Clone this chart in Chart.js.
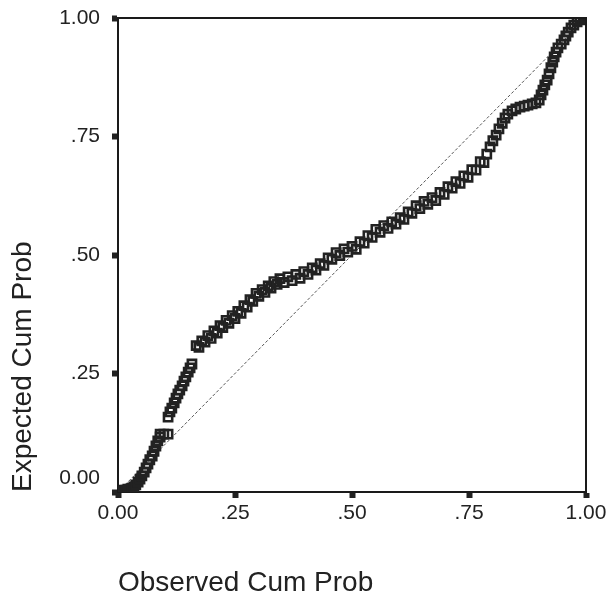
<!DOCTYPE html>
<html>
<head>
<meta charset="utf-8">
<script src="https://cdn.jsdelivr.net/npm/chart.js@4.4.1/dist/chart.umd.min.js"></script>
<style>
  html, body { margin: 0; padding: 0; background: #fff; }
  canvas { display: block; }
</style>
</head>
<body>
<canvas id="ppChart" width="606" height="600"></canvas>
<script>
// P-P plot: observed vs expected cumulative probability
var observed = [
  0.000, 0.004, 0.009, 0.013, 0.017, 0.021, 0.026, 0.030, 0.034, 0.038,
  0.043, 0.047, 0.051, 0.056, 0.060, 0.064, 0.068, 0.073, 0.077, 0.081,
  0.085, 0.090, 0.090, 0.098, 0.107,
  0.107, 0.111, 0.115, 0.120, 0.124, 0.128, 0.132, 0.137, 0.141, 0.145,
  0.150, 0.154, 0.158,
  0.167, 0.173, 0.179, 0.186, 0.192, 0.199, 0.205, 0.212, 0.218, 0.224,
  0.231, 0.237, 0.244, 0.250, 0.256, 0.263, 0.269, 0.276, 0.282, 0.288,
  0.295, 0.301, 0.308, 0.314, 0.321, 0.327, 0.333, 0.340, 0.346, 0.355,
  0.363, 0.372, 0.380, 0.389, 0.397, 0.406, 0.415, 0.423, 0.432, 0.440,
  0.449, 0.457, 0.466, 0.474, 0.483, 0.491, 0.500, 0.509, 0.517, 0.526,
  0.534, 0.543, 0.551, 0.560, 0.568, 0.577, 0.585, 0.594, 0.603, 0.611,
  0.620, 0.628, 0.637, 0.645, 0.654, 0.662, 0.671, 0.679, 0.688, 0.697,
  0.705, 0.714, 0.722, 0.731, 0.739, 0.748, 0.756, 0.765, 0.774, 0.782,
  0.788, 0.795, 0.801, 0.808, 0.814, 0.821, 0.827, 0.833, 0.842, 0.850,
  0.859, 0.868, 0.876, 0.885, 0.893, 0.900, 0.904, 0.908, 0.912, 0.917,
  0.921, 0.925, 0.929, 0.932, 0.936, 0.940, 0.947, 0.953, 0.957, 0.962,
  0.968, 0.974, 0.981, 0.987, 0.994, 0.998, 1.000
];
var expected = [
  0.000, 0.002, 0.002, 0.004, 0.004, 0.006, 0.006, 0.008, 0.011, 0.015,
  0.021, 0.027, 0.034, 0.042, 0.051, 0.059, 0.068, 0.076, 0.086, 0.097,
  0.108, 0.116, 0.122, 0.122, 0.122,
  0.158, 0.169, 0.177, 0.188, 0.198, 0.207, 0.215, 0.224, 0.234, 0.243,
  0.253, 0.262, 0.270,
  0.309, 0.305, 0.319, 0.316, 0.330, 0.324, 0.340, 0.335, 0.351, 0.347,
  0.362, 0.356, 0.372, 0.366, 0.381, 0.377, 0.393, 0.390, 0.406, 0.402,
  0.419, 0.413, 0.427, 0.421, 0.435, 0.430, 0.444, 0.438, 0.450, 0.442,
  0.454, 0.446, 0.459, 0.451, 0.465, 0.459, 0.473, 0.468, 0.482, 0.478,
  0.494, 0.491, 0.505, 0.499, 0.513, 0.506, 0.518, 0.512, 0.528, 0.525,
  0.541, 0.537, 0.554, 0.548, 0.562, 0.556, 0.570, 0.565, 0.579, 0.575,
  0.591, 0.588, 0.604, 0.598, 0.613, 0.607, 0.621, 0.615, 0.632, 0.628,
  0.644, 0.641, 0.655, 0.651, 0.667, 0.664, 0.680, 0.679, 0.697, 0.695,
  0.713, 0.728, 0.741, 0.753, 0.766, 0.778, 0.789, 0.797, 0.804, 0.808,
  0.812, 0.814, 0.816, 0.819, 0.821, 0.827, 0.838, 0.848, 0.859, 0.869,
  0.882, 0.895, 0.907, 0.918, 0.928, 0.937, 0.945, 0.954, 0.962, 0.970,
  0.979, 0.985, 0.992, 0.996, 1.000, 1.000, 1.000
];
var xTickLabels = ["0.00", ".25", ".50", ".75", "1.00"];
var yTickLabels = ["0.00", ".25", ".50", ".75", "1.00"];
var refLine = [0, 1];

var points = observed.map(function (v, i) { return { x: v, y: expected[i] }; });
var diag = refLine.map(function (v) { return { x: v, y: v }; });

var fontFam = '"Liberation Sans", Arial, sans-serif';

// top/right sides of the frame, plus the raised "0.00" label on the y axis
var frame = {
  id: 'frame',
  afterDraw: function (chart) {
    var a = chart.chartArea, c = chart.ctx;
    c.save();
    c.strokeStyle = '#1a1a1a';
    c.lineWidth = 2;
    c.beginPath();
    c.moveTo(a.left, a.top);
    c.lineTo(a.right, a.top);
    c.lineTo(a.right, a.bottom);
    c.stroke();
    c.fillStyle = '#222';
    c.font = '21px ' + fontFam;
    c.textAlign = 'right';
    c.textBaseline = 'middle';
    c.fillText(yTickLabels[0], a.left - 18, chart.scales.y.getPixelForValue(0) - 14);
    c.restore();
  }
};

var ctx = document.getElementById('ppChart').getContext('2d');
var ppChart = new Chart(ctx, {
  type: 'scatter',
  data: {
    datasets: [{
      label: 'Diagonal',
      type: 'line',
      data: diag,
      borderColor: '#555',
      borderWidth: 1,
      borderDash: [3, 2],
      pointRadius: 0,
      fill: false,
      order: 2
    }, {
      label: 'Cases',
      data: points,
      pointStyle: 'rect',
      pointRadius: 5.8,
      pointBorderWidth: 2.6,
      borderColor: '#222',
      backgroundColor: 'rgba(255,255,255,0)',
      order: 1
    }]
  },
  options: {
    responsive: false,
    animation: false,
    layout: { padding: { left: 0, top: 18, right: 20, bottom: 0 } },
    plugins: {
      legend: { display: false },
      tooltip: { enabled: false }
    },
    scales: {
      x: {
        type: 'linear',
        min: 0,
        max: 1,
        afterFit: function (s) { s.height = 108; s.paddingRight = 0; s.paddingLeft = 0; },
        border: { display: true, color: '#1a1a1a', width: 2 },
        grid: { drawOnChartArea: false, tickLength: 6, tickWidth: 6, tickColor: '#222' },
        ticks: {
          stepSize: 0.25,
          padding: 3,
          color: '#222',
          font: { family: fontFam, size: 21 },
          callback: function (v, i) { return xTickLabels[i]; }
        },
        title: {
          display: true,
          text: 'Observed Cum Prob',
          align: 'start',
          color: '#222',
          padding: { top: 0, bottom: 0 },
          font: { family: fontFam, size: 28 }
        }
      },
      y: {
        type: 'linear',
        min: 0,
        max: 1,
        afterFit: function (s) { s.width = 118; s.paddingTop = 0; s.paddingBottom = 0; },
        border: { display: true, color: '#1a1a1a', width: 2 },
        grid: { drawOnChartArea: false, tickLength: 6, tickWidth: 6, tickColor: '#222' },
        ticks: {
          stepSize: 0.25,
          padding: 12,
          color: '#222',
          font: { family: fontFam, size: 21 },
          callback: function (v, i) { return i === 0 ? '' : yTickLabels[i]; }
        },
        title: {
          display: true,
          text: 'Expected Cum Prob',
          align: 'start',
          color: '#222',
          padding: { top: 6, bottom: 0 },
          font: { family: fontFam, size: 28 }
        }
      }
    }
  },
  plugins: [frame]
});
</script>
</body>
</html>
